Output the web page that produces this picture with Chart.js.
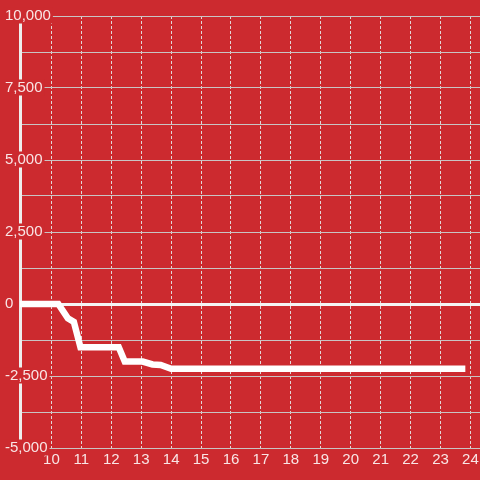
<!DOCTYPE html>
<html>
<head>
<meta charset="utf-8">
<script src="https://cdn.jsdelivr.net/npm/chart.js@4/dist/chart.umd.min.js"></script>
<style>
html,body{margin:0;padding:0;background:#cc2a2f;}
#wrap{width:480px;height:480px;}
canvas{display:block;}
</style>
</head>
<body>
<div id="wrap"><canvas id="c" width="480" height="480"></canvas></div>
<script>
// ---- data ----
const xValues = [8.75, 10.23, 10.55, 10.75, 10.97, 12.25, 12.45, 13.05, 13.38, 13.65, 14.0, 23.83];
const yValues = [0, 0, -500, -620, -1500, -1500, -2000, -2000, -2100, -2120, -2250, -2250];
const xTicks = [10, 11, 12, 13, 14, 15, 16, 17, 18, 19, 20, 21, 22, 23, 24];
const yTicks = [-5000, -3750, -2500, -1250, 0, 1250, 2500, 3750, 5000, 6250, 7500, 8750, 10000];
const yLabelStep = 2500;
const xMin = 8.95, xMax = 24.32;
const yMin = -5000, yMax = 10000;

const BG = '#cc2a2f';
const points = xValues.map((x, i) => ({x: x, y: yValues[i]}));

new Chart(document.getElementById('c'), {
  type: 'line',
  data: {
    datasets: [{
      data: points,
      borderColor: '#ffffff',
      borderWidth: 6.5,
      borderCapStyle: 'butt',
      borderJoinStyle: 'miter',
      pointRadius: 0,
      tension: 0,
      fill: false
    }]
  },
  options: {
    responsive: false,
    animation: false,
    devicePixelRatio: 1,
    layout: {padding: {left: 20, top: 16, right: 0, bottom: 8}},
    plugins: {legend: {display: false}, tooltip: {enabled: false}},
    scales: {
      x: {
        type: 'linear',
        min: xMin,
        max: xMax,
        afterBuildTicks: s => { s.ticks = xTicks.map(v => ({value: v})); },
        border: {display: false, dash: [3, 2]},
        grid: {
          color: '#e2d6d6',
          lineWidth: 1,
          drawTicks: false
        },
        ticks: {
          color: 'rgba(255,255,255,0.88)',
          font: {family: 'Liberation Sans', size: 15, lineHeight: 1.6},
          padding: 0,
          maxRotation: 0,
          autoSkip: false,
          callback: v => String(v)
        }
      },
      y: {
        type: 'linear',
        min: yMin,
        max: yMax,
        afterBuildTicks: s => { s.ticks = yTicks.map(v => ({value: v})); },
        afterFit: s => { s.width = 0; },
        border: {display: true, color: '#eeeeee', width: 3},
        grid: {
          color: c => (c.tick && c.tick.value === 0) ? '#f4f4f4' : '#c9c4c4',
          lineWidth: c => (c.tick && c.tick.value === 0) ? 3 : 1,
          drawTicks: false
        },
        ticks: {
          mirror: true,
          crossAlign: 'near',
          padding: -15,
          color: 'rgba(255,255,255,0.88)',
          font: {family: 'Liberation Sans', size: 15, lineHeight: 1},
          showLabelBackdrop: c => c.tick && c.tick.value % yLabelStep === 0,
          backdropColor: BG,
          backdropPadding: {top: 1, bottom: 0, left: 2, right: 2},
          autoSkip: false,
          callback: v => (v % yLabelStep === 0) ? v.toLocaleString('en-US') : ''
        }
      }
    }
  }
});
</script>
</body>
</html>
